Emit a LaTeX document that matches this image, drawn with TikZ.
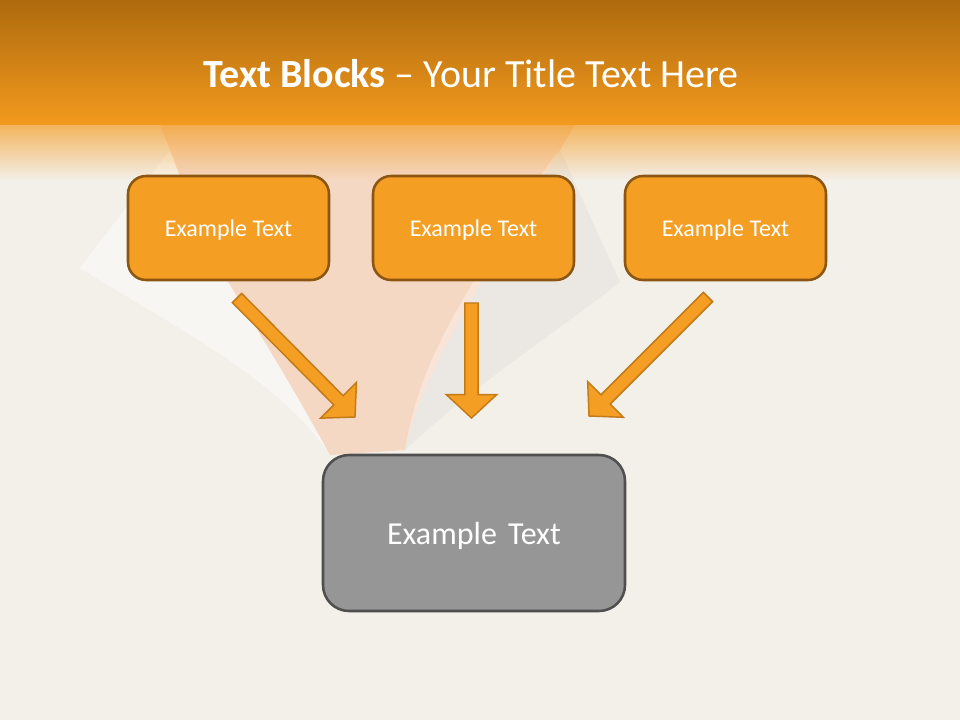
\documentclass[tikz,border=0pt]{standalone}
\usepackage{fontspec}
\setmainfont{Carlito}
\usepackage{xcolor}
\usetikzlibrary{calc,fadings}

\definecolor{bandtop}{HTML}{AE6A0E}
\definecolor{bandlow}{HTML}{F39A1E}
\definecolor{paper}{HTML}{F3EFE9}
\definecolor{peach}{HTML}{F6D3BA}
\definecolor{boxorange}{HTML}{F49E23}
\definecolor{boxedge}{HTML}{8A5611}
\definecolor{arrowedge}{HTML}{C27B17}
\definecolor{boxgray}{HTML}{969696}
\definecolor{grayedge}{HTML}{4F4F4F}

\tikzstyle{block}=[draw=boxedge,fill=boxorange,line width=1.9pt,rounded corners=13.5pt,
  minimum width=150.75pt,minimum height=78pt,text=white,text depth=0pt,
  font=\fontsize{18}{22}\selectfont]
\tikzstyle{result}=[draw=grayedge,fill=boxgray,line width=1.9pt,rounded corners=19.5pt,
  minimum width=226.5pt,minimum height=117pt,text=white,text depth=0pt,
  font=\fontsize{24}{29}\selectfont]
\tikzstyle{flow}=[draw=arrowedge,fill=boxorange,line width=1.1pt,line join=miter]

% block arrow from #1 (tail) to #2 (tip)
\newcommand{\flowarrow}[2]{%
  \draw[flow] (#2) -- ($(#2)!17.6pt!(#1)!19pt!90:(#1)$)
    -- ($(#2)!17.6pt!(#1)!4.9pt!90:(#1)$)
    -- ($(#1)!4.9pt!-90:(#2)$)
    -- ($(#1)!4.9pt!90:(#2)$)
    -- ($(#2)!17.6pt!(#1)!4.9pt!-90:(#1)$)
    -- ($(#2)!17.6pt!(#1)!19pt!-90:(#1)$) -- cycle;}

\begin{document}
\begin{tikzpicture}[x=0.75pt,y=-0.75pt]
      \useasboundingbox (0,0) rectangle (960,720);

      % background
      \fill[paper] (0,0) rectangle (960,720);
      \fill[white,opacity=.45] (80,268) -- (170,150) .. controls (200,230) and (215,260) .. (233,290)
        .. controls (270,350) and (300,400) .. (330,455) .. controls (280,380) and (180,330) .. (80,268) -- cycle;
      \fill[peach,opacity=.8] (160,125) -- (575,125) -- (560,150) .. controls (470,300) and (420,380) .. (405,450)
        -- (330,455) .. controls (300,400) and (270,350) .. (233,290) .. controls (215,260) and (200,230) .. (170,150) -- cycle;
      \fill[black!14,opacity=.3] (405,450) .. controls (420,380) and (470,300) .. (560,150)
        -- (620,282) .. controls (560,330) and (480,380) .. (405,450) -- cycle;
      \fill[white,opacity=.35] (405,450) .. controls (420,380) and (470,300) .. (560,150)
        -- (548,165) .. controls (460,300) and (420,360) .. (405,450) -- cycle;
      \fill[bandlow,path fading=south] (0,100) rectangle (960,180);
      \shade[top color=bandtop,bottom color=bandlow] (0,0) rectangle (960,125);

      % title
      \node[anchor=base,text=white,font=\fontsize{30}{36}\selectfont] (title) at (471,88)
        {\textbf{Text Blocks} – Your Title Text Here};

      % blocks
      \foreach \i/\x in {1/228.5,2/473.5,3/725.5}{
        \node[block] (b\i) at (\x,228) {Example Text};
      }
      \node[result] (res) at (474,533) {Example\hspace{0.12em} Text};

      % arrows
      \coordinate (t1) at (237,298);
      \coordinate (h1) at (355,417);
      \coordinate (t2) at (471.5,303);
      \coordinate (h2) at (471.5,418);
      \coordinate (t3) at (708,297);
      \coordinate (h3) at (589,416);

      \foreach \i in {1,...,3}{
        \flowarrow{t\i}{h\i}
      }
    \end{tikzpicture}
\end{document}
